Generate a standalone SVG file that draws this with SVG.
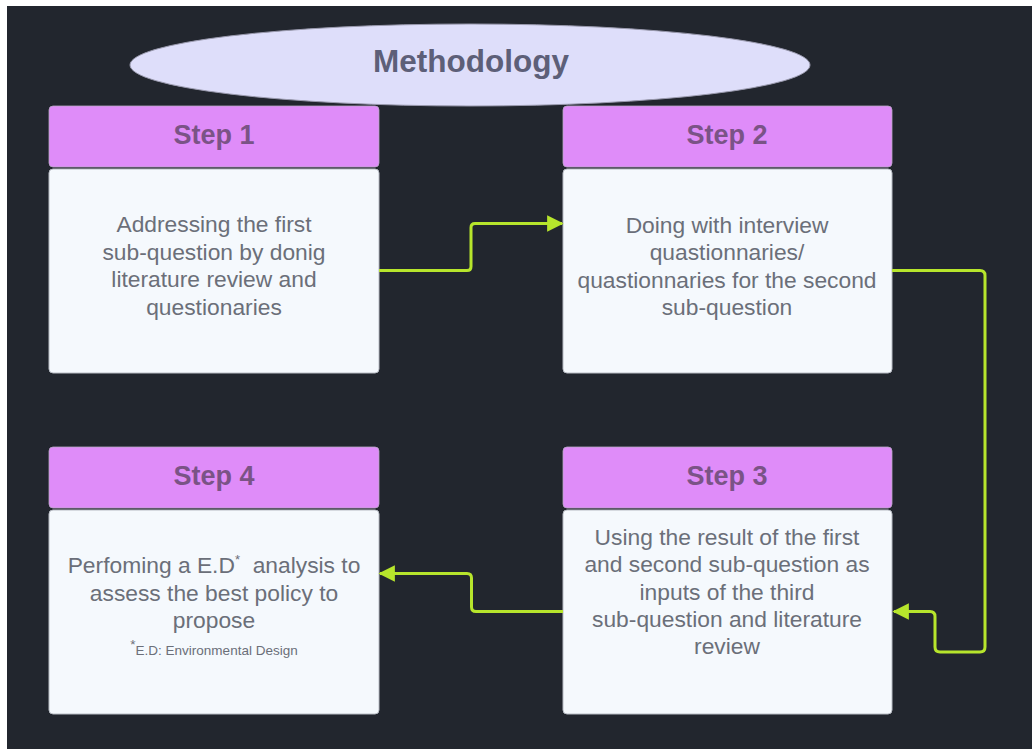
<svg xmlns="http://www.w3.org/2000/svg" width="1032" height="749" viewBox="0 0 1032 749">
<style>
.hdr{fill:#df8cf9;stroke:#b9a6c6;stroke-width:0.8}
.body{fill:#f5f9fd;stroke:#b8bcc4;stroke-width:1}
.ht{font-family:"Liberation Sans",Arial,sans-serif;font-weight:bold;font-size:27px;fill:#7a5386;text-anchor:middle}
.bt{font-family:"Liberation Sans",Arial,sans-serif;font-size:22.8px;fill:#6b6f79;text-anchor:middle}
.fn{font-family:"Liberation Sans",Arial,sans-serif;font-size:13.5px;fill:#6b6f79;text-anchor:middle}
.conn{fill:none;stroke:#b7e52c;stroke-width:3;stroke-linejoin:round}
</style>
<defs>
<marker id="arr" viewBox="0 0 10 10" refX="9" refY="5" markerWidth="5.5" markerHeight="5.5" orient="auto" markerUnits="strokeWidth">
<path d="M0,0 L10,5 L0,10 z" fill="#b7e52c"/>
</marker>
</defs>
<rect x="0" y="0" width="1032" height="749" fill="#ffffff"/>
<rect x="7" y="6" width="1025" height="743" fill="#22262e"/>

<g id="title">
<ellipse cx="470" cy="65" rx="340" ry="41" fill="#dedefa" stroke="#9a9aae" stroke-width="1"/>
<text x="471" y="72" font-family="Liberation Sans,Arial,sans-serif" font-weight="bold" font-size="31.5" fill="#5d5f78" text-anchor="middle">Methodology</text>
</g>

<g id="step1">
<rect class="hdr" x="49" y="106" width="330" height="61" rx="4"/>
<text class="ht" x="214" y="144">Step 1</text>
<rect class="body" x="49" y="169" width="330" height="204" rx="4"/>
<text class="bt" x="214" y="232">Addressing the first</text>
<text class="bt" x="214" y="259.5">sub-question by donig</text>
<text class="bt" x="214" y="287">literature review and</text>
<text class="bt" x="214" y="314.5">questionaries</text>
</g>

<g id="step2">
<rect class="hdr" x="563" y="106" width="329" height="61" rx="4"/>
<text class="ht" x="727" y="144">Step 2</text>
<rect class="body" x="563" y="169" width="329" height="204" rx="4"/>
<text class="bt" x="727" y="232.5">Doing with interview</text>
<text class="bt" x="727" y="260">quastionnaries/</text>
<text class="bt" x="727" y="287.5">quastionnaries for the second</text>
<text class="bt" x="727" y="315">sub-question</text>
</g>

<g id="step3">
<rect class="hdr" x="563" y="447" width="329" height="61" rx="4"/>
<text class="ht" x="727" y="485">Step 3</text>
<rect class="body" x="563" y="510" width="329" height="204" rx="4"/>
<text class="bt" x="727" y="545">Using the result of the first</text>
<text class="bt" x="727" y="572">and second sub-question as</text>
<text class="bt" x="727" y="599.5">inputs of the third</text>
<text class="bt" x="727" y="627">sub-question and literature</text>
<text class="bt" x="727" y="654">review</text>
</g>

<g id="step4">
<rect class="hdr" x="49" y="447" width="330" height="61" rx="4"/>
<text class="ht" x="214" y="485">Step 4</text>
<rect class="body" x="49" y="510" width="330" height="204" rx="4"/>
<text class="bt" x="214" y="573">Perfoming a E.D<tspan font-size="13" dy="-9">*</tspan><tspan dy="9" xml:space="preserve">  analysis to</tspan></text>
<text class="bt" x="214" y="601">assess the best policy to</text>
<text class="bt" x="214" y="628">propose</text>
<text class="fn" x="214" y="655"><tspan dy="-6">*</tspan><tspan dy="6">E.D: Environmental Design</tspan></text>
</g>

<g id="connectors">
<path class="conn" d="M379,270.5 H467 Q471,270.5 471,266.5 V227.5 Q471,223.5 475,223.5 H562" marker-end="url(#arr)"/>
<path class="conn" d="M892,270.5 H980 Q985,270.5 985,275.5 V647 Q985,652 980,652 H940 Q935,652 935,647 V616.5 Q935,611.5 930,611.5 H894" marker-end="url(#arr)"/>
<path class="conn" d="M563,611.5 H476 Q471.5,611.5 471.5,607 V578 Q471.5,573.5 467,573.5 H380" marker-end="url(#arr)"/>
</g>
</svg>
